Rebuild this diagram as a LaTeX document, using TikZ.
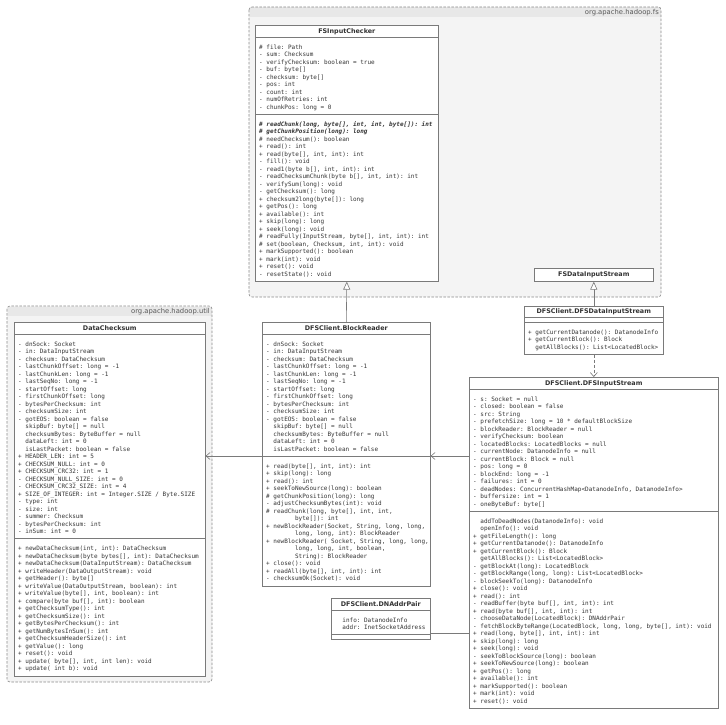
\documentclass[tikz,border=0pt]{standalone}
\usepackage{fontspec}
\setmainfont{DejaVu Sans}
\setmonofont{DejaVu Sans Mono}
\usetikzlibrary{arrows.meta}
\definecolor{pkgfill}{HTML}{F4F4F4}
\definecolor{pkghead}{HTML}{E8E8E8}
\definecolor{pkgline}{HTML}{8A8A8A}
\definecolor{boxline}{HTML}{7A7A7A}
\definecolor{txt}{HTML}{333333}
\newcommand\mfont{\fontsize{6.0}{7.5}\selectfont\ttfamily}
\newcommand\tfont{\fontsize{6.4}{7.5}\selectfont\bfseries}
\newcommand\indt{\ \ \ \ \ \ \ \ }
\newcommand\umlclass[9]{%
  \pgfmathsetmacro\hA{(#6==0) ? 4.5 : 9.5+7.5*#6}%
  \pgfmathsetmacro\hM{(#8==0) ? 4.5 : 9.5+7.5*#8}%
  \pgfmathsetmacro\hT{12+\hA+\hM}%
  \pgfmathsetmacro\yS{-(12+\hA)}%
  \pgfmathsetmacro\yM{-(12+\hA+6.85)}%
  \node[classbox, minimum width=#4pt, minimum height=\hT pt, anchor=north west] (#1) at (#2,#3) {};
  \node[titletext] (#1-t) at ([yshift=-6.3pt]#1.north) {#5};
  \draw[sepline] ([yshift=-12pt]#1.north west) coordinate (#1-s1) -- ([yshift=-12pt]#1.north east);
  \draw[sepline] ([yshift=\yS pt]#1.north west) coordinate (#1-s2) -- ([yshift=\yS pt]#1.north east);
  \node[members] (#1-a) at ([xshift=4pt,yshift=-18.85pt]#1.north west) {\strut#7};
  \node[members] (#1-m) at ([xshift=4pt,yshift=\yM pt]#1.north west) {\strut#9};
}
\begin{document}
\begin{tikzpicture}[x=1pt,y=-1pt,
  classbox/.style={draw=boxline, fill=white, line width=0.6pt, inner sep=0pt, rectangle},
  sepline/.style={draw=boxline, line width=0.6pt},
  titletext/.style={font=\tfont, text=txt, inner sep=0pt},
  members/.style={font=\mfont, text=txt, inner sep=0pt, align=left, anchor=north west},
  pkglabel/.style={font=\fontsize{6.8}{8}\selectfont, text=black!65, inner sep=0pt},
  pkgborder/.style={draw=pkgline, line width=0.6pt, dash pattern=on 2.5pt off 1.5pt, rounded corners=3pt},
  gen/.style={draw=boxline, line width=0.6pt, -{Triangle[width=7pt,length=8pt,fill=white]}},
  dep/.style={draw=boxline, line width=0.6pt, dash pattern=on 3pt off 2pt, -{Straight Barb[length=4pt,width=7pt]}},
  assoc/.style={draw=boxline, line width=0.6pt, -{Straight Barb[length=4pt,width=7pt]}},
  plain/.style={draw=boxline, line width=0.6pt}]
\useasboundingbox (0,0) rectangle (725,725);
% packages
\path[fill=pkgfill, rounded corners=3pt] (249,7) rectangle (661,297);
\path[fill=pkghead] (249.5,7.5) rectangle (660.5,17);
\draw[pkgborder] (249,7) rectangle (661,297);
\node[pkglabel, anchor=east] (pkgfs) at (659,12.2) {org.apache.hadoop.fs};
\path[fill=pkgfill, rounded corners=3pt] (7,306) rectangle (212,682);
\path[fill=pkghead] (7.5,306.5) rectangle (211.5,316);
\draw[pkgborder] (7,306) rectangle (212,682);
\node[pkglabel, anchor=east] (pkgutil) at (210,311.2) {org.apache.hadoop.util};
% FSInputChecker
\umlclass{FIC}{255}{25}{183}{FSInputChecker}{9}{%
\# file: Path\\
- sum: Checksum\\
- verifyChecksum: boolean = true\\
- buf: byte[]\\
- checksum: byte[]\\
- pos: int\\
- count: int\\
- numOfRetries: int\\
- chunkPos: long = 0}{21}{%
{\bfseries\itshape\# readChunk(long, byte[], int, int, byte[]): int}\\
{\bfseries\itshape\# getChunkPosition(long): long}\\
\# needChecksum(): boolean\\
+ read(): int\\
+ read(byte[], int, int): int\\
- fill(): void\\
- read1(byte b[], int, int): int\\
- readChecksumChunk(byte b[], int, int): int\\
- verifySum(long): void\\
- getChecksum(): long\\
+ checksum2long(byte[]): long\\
+ getPos(): long\\
+ available(): int\\
+ skip(long): long\\
+ seek(long): void\\
\# readFully(InputStream, byte[], int, int): int\\
\# set(boolean, Checksum, int, int): void\\
+ markSupported(): boolean\\
+ mark(int): void\\
+ reset(): void\\
- resetState(): void}
% FSDataInputStream
\node[classbox, minimum width=119pt, minimum height=13.5pt, anchor=north west] (FDIS) at (534,267.5) {};
\node[titletext] (FDIS-t) at (FDIS.center) {FSDataInputStream};
% DFSDataInputStream
\umlclass{DDIS}{524}{305.5}{139}{DFSClient.DFSDataInputStream}{0}{}{3}{%
+ getCurrentDatanode(): DatanodeInfo\\
+ getCurrentBlock(): Block\\
\ \ getAllBlocks(): List<LocatedBlock>}
% DataChecksum
\umlclass{DC}{14}{322}{191}{DataChecksum}{26}{%
- dnSock: Socket\\
- in: DataInputStream\\
- checksum: DataChecksum\\
- lastChunkOffset: long = -1\\
- lastChunkLen: long = -1\\
- lastSeqNo: long = -1\\
- startOffset: long\\
- firstChunkOffset: long\\
- bytesPerChecksum: int\\
- checksumSize: int\\
- gotEOS: boolean = false\\
\ \ skipBuf: byte[] = null\\
\ \ checksumBytes: ByteBuffer = null\\
\ \ dataLeft: int = 0\\
\ \ isLastPacket: boolean = false\\
+ HEADER\_LEN: int = 5\\
+ CHECKSUM\_NULL: int = 0\\
+ CHECKSUM\_CRC32: int = 1\\
- CHECKSUM\_NULL\_SIZE: int = 0\\
- CHECKSUM\_CRC32\_SIZE: int = 4\\
+ SIZE\_OF\_INTEGER: int = Integer.SIZE / Byte.SIZE\\
- type: int\\
- size: int\\
- summer: Checksum\\
- bytesPerChecksum: int\\
- inSum: int = 0}{17}{%
+ newDataChecksum(int, int): DataChecksum\\
+ newDataChecksum(byte bytes[], int): DataChecksum\\
+ newDataChecksum(DataInputStream): DataChecksum\\
+ writeHeader(DataOutputStream): void\\
+ getHeader(): byte[]\\
+ writeValue(DataOutputStream, boolean): int\\
+ writeValue(byte[], int, boolean): int\\
+ compare(byte buf[], int): boolean\\
+ getChecksumType(): int\\
+ getChecksumSize(): int\\
+ getBytesPerChecksum(): int\\
+ getNumBytesInSum(): int\\
+ getChecksumHeaderSize(): int\\
+ getValue(): long\\
+ reset(): void\\
+ update( byte[], int, int len): void\\
+ update( int b): void}
% BlockReader
\umlclass{BR}{262}{322}{168}{DFSClient.BlockReader}{15}{%
- dnSock: Socket\\
- in: DataInputStream\\
- checksum: DataChecksum\\
- lastChunkOffset: long = -1\\
- lastChunkLen: long = -1\\
- lastSeqNo: long = -1\\
- startOffset: long\\
- firstChunkOffset: long\\
- bytesPerChecksum: int\\
- checksumSize: int\\
- gotEOS: boolean = false\\
\ \ skipBuf: byte[] = null\\
\ \ checksumBytes: ByteBuffer = null\\
\ \ dataLeft: int = 0\\
\ \ isLastPacket: boolean = false}{16}{%
+ read(byte[], int, int): int\\
+ skip(long): long\\
+ read(): int\\
+ seekToNewSource(long): boolean\\
\# getChunkPosition(long): long\\
- adjustChecksumBytes(int): void\\
\# readChunk(long, byte[], int, int,\\
\indt byte[]): int\\
+ newBlockReader(Socket, String, long, long,\\
\indt long, long, int): BlockReader\\
+ newBlockReader( Socket, String, long, long,\\
\indt long, long, int, boolean,\\
\indt String): BlockReader\\
+ close(): void\\
+ readAll(byte[], int, int): int\\
- checksumOk(Socket): void}
% DFSInputStream
\umlclass{DIS}{469}{377}{249}{DFSClient.DFSInputStream}{15}{%
- s: Socket = null\\
- closed: boolean = false\\
- src: String\\
- prefetchSize: long = 10 * defaultBlockSize\\
- blockReader: BlockReader = null\\
- verifyChecksum: boolean\\
- locatedBlocks: LocatedBlocks = null\\
- currentNode: DatanodeInfo = null\\
- currentBlock: Block = null\\
- pos: long = 0\\
- blockEnd: long = -1\\
- failures: int = 0\\
- deadNodes: ConcurrentHashMap<DatanodeInfo, DatanodeInfo>\\
- buffersize: int = 1\\
- oneByteBuf: byte[]}{25}{%
\ \ addToDeadNodes(DatanodeInfo): void\\
\ \ openInfo(): void\\
+ getFileLength(): long\\
+ getCurrentDatanode(): DatanodeInfo\\
+ getCurrentBlock(): Block\\
\ \ getAllBlocks(): List<LocatedBlock>\\
- getBlockAt(long): LocatedBlock\\
- getBlockRange(long, long): List<LocatedBlock>\\
- blockSeekTo(long): DatanodeInfo\\
+ close(): void\\
+ read(): int\\
- readBuffer(byte buf[], int, int): int\\
+ read(byte buf[], int, int): int\\
- chooseDataNode(LocatedBlock): DNAddrPair\\
- fetchBlockByteRange(LocatedBlock, long, long, byte[], int): void\\
+ read(long, byte[], int, int): int\\
+ skip(long): long\\
+ seek(long): void\\
- seekToBlockSource(long): boolean\\
+ seekToNewSource(long): boolean\\
+ getPos(): long\\
+ available(): int\\
+ markSupported(): boolean\\
+ mark(int): void\\
+ reset(): void}
% DNAddrPair
\umlclass{DNA}{331}{598}{99}{DFSClient.DNAddrPair}{2}{%
\ \ info: DatanodeInfo\\
\ \ addr: InetSocketAddress}{0}{}
% connectors
\coordinate (c1) at (0,633.5);
\draw[gen] (BR.north) -- (FIC.south);
\draw[gen] (DDIS.north) -- (FDIS.south);
\draw[dep] (DDIS.south) -- (DIS.north);
\draw[assoc] (DIS.west |- BR-s2) -- (BR.east |- BR-s2);
\draw[assoc] (BR-s2) -- (DC.east |- BR-s2);
\draw[plain] (DIS.west |- c1) -- (DNA.east |- c1);
\end{tikzpicture}
\end{document}
